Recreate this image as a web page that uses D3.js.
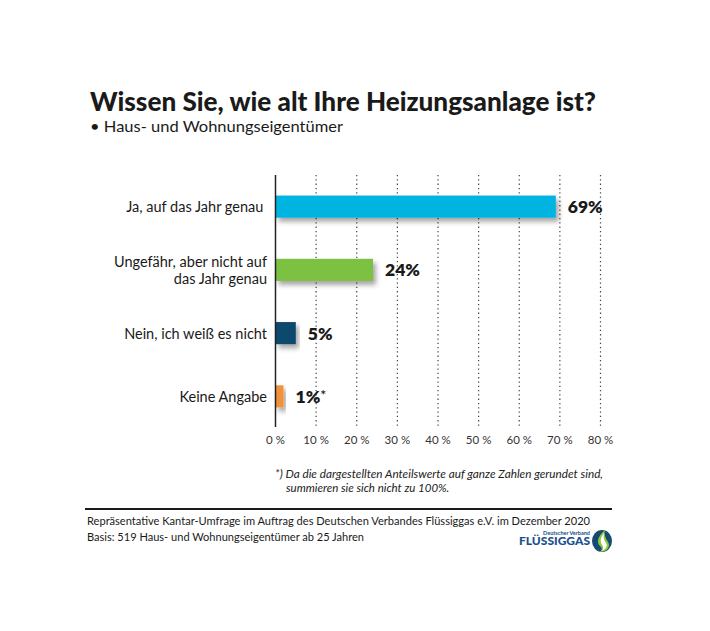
<!DOCTYPE html>
<html>
<head>
<meta charset="utf-8">
<script src="https://cdn.jsdelivr.net/npm/d3@7"></script>
<style>
  body { margin: 0; background: #fff; }
  svg { display: block; }
</style>
</head>
<body>
<script>
// chart data
const categories = ["Ja, auf das Jahr genau\u00a0", "Ungefähr, aber nicht auf\ndas Jahr genau", "Nein, ich weiß es nicht", "Keine Angabe"];
const values = [69, 24, 5, 1];
const valueNotes = ["", "", "", "*"];
const barColors = ["#00b4e1", "#7dc143", "#0d4a6e", "#f0923a"];
const ticks = [0, 10, 20, 30, 40, 50, 60, 70, 80];

const title = "Wissen Sie, wie alt Ihre Heizungsanlage ist?";
const subtitle = "• Haus- und Wohnungseigentümer";
const footnote = ["*) Da die dargestellten Anteilswerte auf ganze Zahlen gerundet sind,", "summieren sie sich nicht zu 100%."];
const source = ["Repräsentative Kantar-Umfrage im Auftrag des Deutschen Verbandes Flüssiggas e.V. im Dezember 2020", "Basis: 519 Haus- und Wohnungseigentümer ab 25 Jahren"];

const W = 710, H = 631;
const font = "Lato, 'Open Sans', sans-serif";

const svg = d3.select("body").append("svg")
    .attr("width", W)
    .attr("height", H)
    .style("background-color", "#fff");

// soft shadow under the bars
const defs = svg.append("defs");
const f = defs.append("filter").attr("id", "shadow")
    .attr("x", "-10%").attr("y", "-30%").attr("width", "130%").attr("height", "190%");
f.append("feDropShadow")
    .attr("dx", 3).attr("dy", 4).attr("stdDeviation", 2.5)
    .attr("flood-color", "#000").attr("flood-opacity", 0.35);

let x = d3.scaleLinear().domain([0, 80]).range([275.5, 600.5]);
let y = d3.scaleBand().domain(categories).range([175, 428]).paddingInner(0.65).paddingOuter(0.325);

// fit a text to a given width
function fit(sel, width) {
    sel.attr("textLength", width).attr("lengthAdjust", "spacingAndGlyphs");
}

// title
svg.append("text")
    .attr("x", 90).attr("y", 111)
    .attr("font-family", font).attr("font-weight", 900)
    .attr("font-size", "26px").attr("fill", "#1a1a1a")
    .text(title)
    .call(fit, 506);

svg.append("text")
    .attr("x", 90).attr("y", 132)
    .attr("font-family", font)
    .attr("font-size", "15px").attr("fill", "#1a1a1a")
    .text(subtitle)
    .call(fit, 253);

// dotted grid
svg.selectAll(".grid")
    .data(ticks.slice(1))
    .enter()
    .append("line")
    .attr("x1", d => x(d)).attr("x2", d => x(d))
    .attr("y1", 175).attr("y2", 427)
    .attr("stroke", "#444")
    .attr("stroke-width", 1.2)
    .attr("stroke-dasharray", "1.3,3");

// tick labels
svg.selectAll(".tick")
    .data(ticks)
    .enter()
    .append("text")
    .attr("x", d => x(d)).attr("y", 444)
    .attr("text-anchor", "middle")
    .attr("font-family", font)
    .attr("font-size", "11.5px").attr("fill", "#333")
    .text(d => d + " %");

// bars
svg.selectAll(".bar")
    .data(values)
    .enter()
    .append("rect")
    .attr("x", x(0))
    .attr("y", (d, i) => y(categories[i]))
    .attr("width", d => Math.max(x(d) - x(0), 8))
    .attr("height", y.bandwidth())
    .attr("fill", (d, i) => barColors[i])
    .attr("filter", "url(#shadow)");

// axis line
svg.append("line")
    .attr("x1", x(0)).attr("x2", x(0))
    .attr("y1", 175).attr("y2", 427)
    .attr("stroke", "#222").attr("stroke-width", 1.5);

// category labels
categories.forEach((c, i) => {
    let lines = c.split("\n");
    let cy = y(c) + y.bandwidth() / 2;
    let t = svg.append("text")
        .attr("x", 267)
        .attr("y", cy + 5.5 - (lines.length - 1) * 8.5)
        .attr("text-anchor", "end")
        .attr("font-family", font)
        .attr("font-size", "14.5px").attr("fill", "#1a1a1a")
        .style("white-space", "pre");
    lines.forEach((l, j) => {
        t.append("tspan").attr("x", 267).attr("dy", j == 0 ? 0 : 17).text(l);
    });
});

// value labels
values.forEach((v, i) => {
    let t = svg.append("text")
        .attr("x", x(0) + Math.max(x(v) - x(0), 8) + 12)
        .attr("y", y(categories[i]) + y.bandwidth() / 2 + 6.5)
        .attr("font-family", font).attr("font-weight", 800)
        .attr("font-size", "17.5px").attr("fill", "#1a1a1a")
        .text(v + "%");
    if (valueNotes[i]) {
        t.append("tspan").attr("dy", -3).attr("font-size", "14px").attr("font-weight", 600).text(valueNotes[i]);
    }
});

// footnote
svg.append("text")
    .attr("x", 275).attr("y", 478)
    .attr("font-family", font).attr("font-style", "italic")
    .attr("font-size", "11.5px").attr("fill", "#222")
    .text(footnote[0])
    .call(fit, 328);
svg.append("text")
    .attr("x", 286).attr("y", 492)
    .attr("font-family", font).attr("font-style", "italic")
    .attr("font-size", "11.5px").attr("fill", "#222")
    .text(footnote[1]);

// rule
svg.append("line")
    .attr("x1", 85).attr("x2", 612)
    .attr("y1", 509).attr("y2", 509)
    .attr("stroke", "#1a1a1a").attr("stroke-width", 1.8);

// source lines
source.forEach((s, i) => {
    svg.append("text")
        .attr("x", 87).attr("y", 525 + i * 15.5)
        .attr("font-family", font)
        .attr("font-size", "11.5px").attr("fill", "#1a1a1a")
        .text(s)
        .call(i == 0 ? (sel => fit(sel, 503)) : (sel => fit(sel, 277)));
});

// logo
let logo = svg.append("g");
logo.append("text")
    .attr("x", 590).attr("y", 535)
    .attr("text-anchor", "end")
    .attr("font-family", font).attr("font-weight", 700)
    .attr("font-size", "5.5px").attr("fill", "#1b4f8c")
    .text("Deutscher Verband");
logo.append("text")
    .attr("x", 590).attr("y", 545)
    .attr("text-anchor", "end")
    .attr("font-family", font).attr("font-weight", 900)
    .attr("font-size", "10.5px").attr("fill", "#1b4f8c")
    .text("FLÜSSIGGAS")
    .call(fit, 71);
logo.append("ellipse")
    .attr("cx", 602).attr("cy", 541).attr("rx", 10).attr("ry", 11)
    .attr("fill", "#164a72");
logo.append("path")
    .attr("d", "M605,530 C598,536 596,542 600,546 C603,549 602,551 599,552 C607,552 611,547 608,542 C605,538 604,534 605,530 Z")
    .attr("fill", "#8cc63f");
logo.append("path")
    .attr("d", "M604,533 C600,538 600,542 602,545 C604,548 603,550 601,551 C606,550 608,546 606,543 C604,540 603,537 604,533 Z")
    .attr("fill", "#fff");
</script>
</body>
</html>
